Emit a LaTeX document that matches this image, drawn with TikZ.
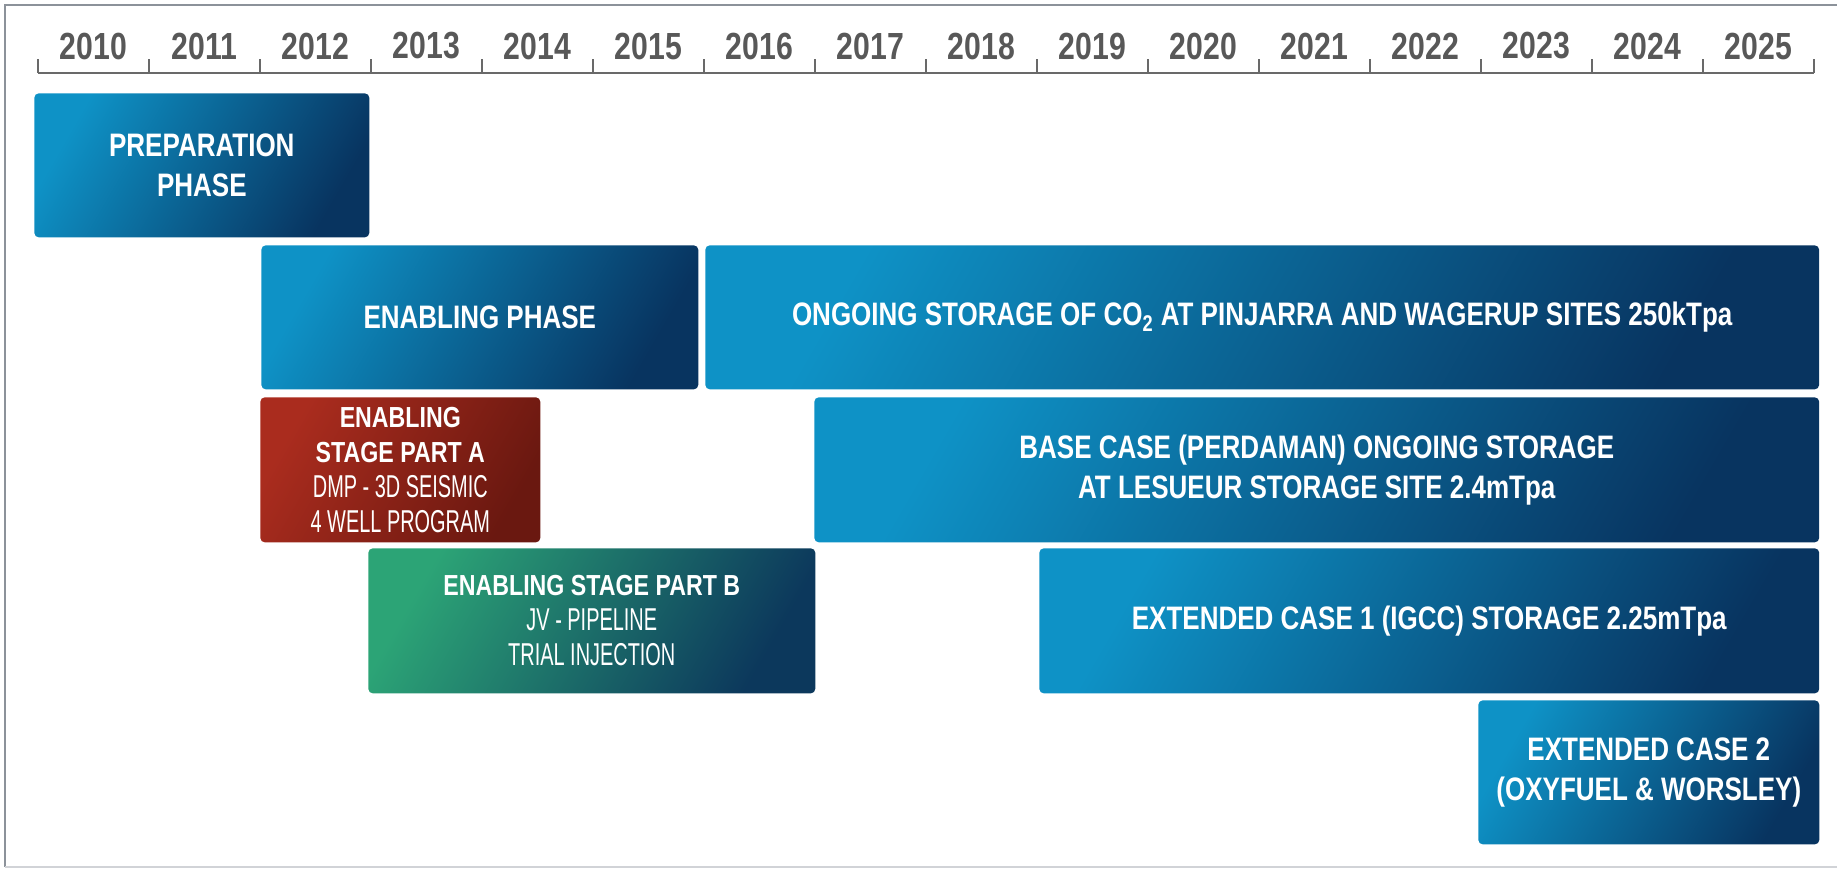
\documentclass[tikz,border=0pt]{standalone}
\usepackage{fontspec}
\setmainfont{Liberation Sans}[FakeStretch=0.8]
\newfontfamily\slimfont{Liberation Sans}[FakeStretch=0.63]
\usetikzlibrary{positioning}
\definecolor{tlgray}{RGB}{88,88,88}
\definecolor{tlframe}{RGB}{140,146,154}
\definecolor{tlblueA}{RGB}{14,146,198}
\definecolor{tlblueB}{RGB}{8,52,96}
\definecolor{tlredA}{RGB}{170,44,30}
\definecolor{tlredB}{RGB}{106,24,16}
\definecolor{tlgreenA}{RGB}{44,164,118}
\definecolor{tlgreenB}{RGB}{12,56,92}
\tikzset{
  phase/.style={rounded corners=2.5pt, anchor=north west, inner sep=0pt,
    text=white, align=center, font=\bfseries\fontsize{18.5}{22.5}\selectfont,
    left color=tlblueA, right color=tlblueB, shading angle=60},
  redphase/.style={phase, left color=tlredA, right color=tlredB, shading angle=60,
    font=\bfseries\fontsize{16.5}{20}\selectfont},
  greenphase/.style={phase, left color=tlgreenA, right color=tlgreenB, shading angle=60,
    font=\bfseries\fontsize{16.5}{20}\selectfont},
  year/.style={font=\bfseries\fontsize{21.5}{24}\selectfont, text=tlgray}
}
\newcommand{\slimline}[1]{{\slimfont\mdseries\fontsize{18}{20}\selectfont #1}}
\begin{document}
\begin{tikzpicture}[x=0.02cm, y=-0.02cm]
  \useasboundingbox (0,0) rectangle (1837,869);
  % Frame
  \draw[tlframe, line width=1.6pt] (1837,5) -- (5,5) -- (5,867);
  \draw[tlframe!40, line width=0.6pt] (5,867) -- (1837,867);

  % Timeline
  \draw[tlgray!90, line width=1.4pt] (38,73) -- (1814,73);
  \foreach \i in {0,...,16}
    \draw[tlgray!90, line width=1.1pt] (38+111*\i,59) -- (38+111*\i,73);
  \foreach \yr [count=\i from 0] in {2010,...,2025}
    \node[year] (y\yr) at (93.5+111*\i,46) {\yr};

  % Phases
  \node[phase, minimum width=6.7cm, minimum height=2.88cm] (prep) at (34,93) {PREPARATION\\PHASE};
  \node[phase, minimum width=8.74cm, minimum height=2.88cm] (enabling) at (261,245) {ENABLING PHASE};
  \node[phase, minimum width=22.28cm, minimum height=2.88cm] (ongoing) at (705,245)
    {ONGOING STORAGE OF CO\textsubscript{2} AT PINJARRA AND WAGERUP SITES 250kTpa};
  \node[redphase, minimum width=5.6cm, minimum height=2.9cm] (partA) at (260,397)
    {ENABLING\\STAGE PART A\\\slimline{DMP - 3D SEISMIC}\\\slimline{4 WELL PROGRAM}};
  \node[phase, minimum width=20.1cm, minimum height=2.9cm] (basecase) at (814,397)
    {BASE CASE (PERDAMAN) ONGOING STORAGE\\AT LESUEUR STORAGE SITE 2.4mTpa};
  \node[greenphase, minimum width=8.94cm, minimum height=2.9cm] (partB) at (368,548)
    {ENABLING STAGE PART B\\\slimline{JV - PIPELINE}\\\slimline{TRIAL INJECTION}};
  \node[phase, minimum width=15.6cm, minimum height=2.9cm] (ext1) at (1039,548)
    {EXTENDED CASE 1 (IGCC) STORAGE 2.25mTpa};
  \node[phase, minimum width=6.82cm, minimum height=2.88cm] (ext2) at (1478,700)
    {EXTENDED CASE 2\\(OXYFUEL \& WORSLEY)};
\end{tikzpicture}
\end{document}
